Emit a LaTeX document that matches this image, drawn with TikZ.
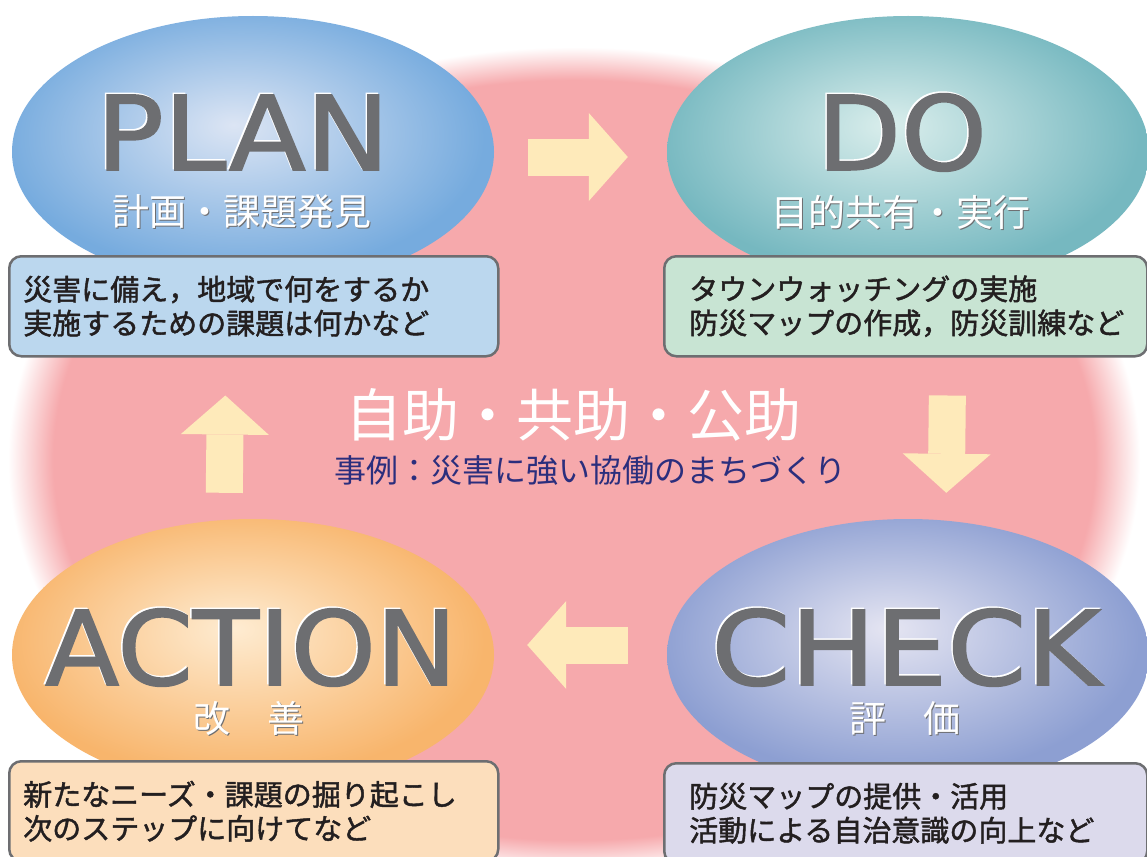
\documentclass[tikz,border=0pt]{standalone}
\usepackage{fontspec}
\usepackage{graphicx}
\setmainfont{Noto Sans CJK JP}
\newfontfamily\boxfont{Noto Sans CJK JP}[FakeBold=1.5]
\newfontfamily\latinfont{DejaVu Sans}[FakeBold=1.5]
\usepackage{tikz}
\usetikzlibrary{shapes, arrows.meta, positioning, calc}

\definecolor{bgpink}{RGB}{246,169,172}
\definecolor{planrim}{RGB}{118,171,222}
\definecolor{plancore}{RGB}{220,229,244}
\definecolor{dorim}{RGB}{118,184,192}
\definecolor{docore}{RGB}{218,238,236}
\definecolor{checkrim}{RGB}{141,159,210}
\definecolor{checkcore}{RGB}{229,229,242}
\definecolor{actrim}{RGB}{248,181,108}
\definecolor{actcore}{RGB}{254,236,210}
\definecolor{planfill}{RGB}{187,215,238}
\definecolor{dofill}{RGB}{200,228,211}
\definecolor{checkfill}{RGB}{220,218,236}
\definecolor{actfill}{RGB}{252,222,188}
\definecolor{rimgray}{RGB}{109,110,113}
\definecolor{cream}{RGB}{254,234,186}
\definecolor{navy}{RGB}{43,46,125}
\definecolor{ink}{RGB}{35,31,32}

\pgfdeclareradialshading{pinkglow}{\pgfpoint{0bp}{0bp}}{color(0bp)=(bgpink); color(23bp)=(bgpink); color(25bp)=(white); color(50bp)=(white)}
\pgfdeclareradialshading{planglow}{\pgfpoint{-2bp}{5bp}}{color(0bp)=(plancore); color(25bp)=(planrim); color(50bp)=(planrim)}
\pgfdeclareradialshading{doglow}{\pgfpoint{-2bp}{5bp}}{color(0bp)=(docore); color(25bp)=(dorim); color(50bp)=(dorim)}
\pgfdeclareradialshading{checkglow}{\pgfpoint{-2bp}{5bp}}{color(0bp)=(checkcore); color(25bp)=(checkrim); color(50bp)=(checkrim)}
\pgfdeclareradialshading{actglow}{\pgfpoint{-2bp}{5bp}}{color(0bp)=(actcore); color(25bp)=(actrim); color(50bp)=(actrim)}

\tikzstyle{phase} = [ellipse, inner sep=0pt, minimum width=482pt, minimum height=272pt]
\tikzstyle{block} = [rectangle, draw=rimgray, line width=2.5pt, rounded corners=12pt, minimum height=100pt, align=left, text=ink, anchor=north west, font=\boxfont\fontsize{29pt}{34pt}\selectfont]
\tikzstyle{flow} = [draw=cream, line width=37pt, -{Triangle[width=88pt, length=39pt, line width=0pt]}]
\tikzstyle{word} = [text=rimgray, inner sep=0pt, anchor=base, text depth=0pt, font=\latinfont\fontsize{103pt}{103pt}\selectfont]
\tikzstyle{wordlight} = [word, text=white]
\tikzstyle{caption} = [text=white, inner sep=0pt, font=\fontsize{37pt}{37pt}\selectfont]
\tikzstyle{captionshade} = [caption, text=rimgray]

\begin{document}
\begin{tikzpicture}[x=1pt, y=-1pt]
	\useasboundingbox (0,0) rectangle (1147,856);
	\clip (0,0) rectangle (1147,856);
	\fill[white] (0,0) rectangle (1147,856);
	\shade[shading=pinkglow] (574,460) ellipse [x radius=566pt, y radius=413pt];

	% the four phases
	\node[phase, shading=planglow] (plan) at (253,152) {};
	\node[phase, shading=doglow] (do) at (908,152) {};
	\node[phase, shading=checkglow] (check) at (908,655) {};
	\node[phase, shading=actglow] (action) at (253,655) {};

	\node[block, fill=planfill, text width=461pt, inner xsep=14pt] (planbox) at (8,255) {災害に備え，地域で何をするか\\実施するための課題は何かなど};
	\node[block, fill=dofill, text width=433pt, inner xsep=25pt] (dobox) at (663,255) {タウンウォッチングの実施\\防災マップの作成，防災訓練など};
	\node[block, fill=checkfill, text width=433pt, inner xsep=25pt] (checkbox) at (663,762) {防災マップの提供・活用\\活動による自治意識の向上など};
	\node[block, fill=actfill, text width=461pt, inner xsep=14pt] (actionbox) at (8,760) {新たなニーズ・課題の掘り起こし\\次のステップに向けてなど};

	\node[wordlight] (planhl) at ($(plan)+(-11.5,16.5)$) {\scalebox{1.09}[1]{PLAN}};
	\node[word] (planword) at ($(plan)+(-10,18)$) {\scalebox{1.09}[1]{PLAN}};
	\node[wordlight] (dohl) at ($(do)+(-7.5,16.5)$) {\scalebox{1.06}[1]{DO}};
	\node[word] (doword) at ($(do)+(-6,18)$) {\scalebox{1.06}[1]{DO}};
	\node[wordlight] (checkhl) at ($(check)+(-3.5,28.5)$) {\scalebox{1.1}[1]{CHECK}};
	\node[word] (checkword) at ($(check)+(-2,30)$) {\scalebox{1.1}[1]{CHECK}};
	\node[wordlight] (actionhl) at ($(action)+(-3.5,28.5)$) {\scalebox{1.05}[1]{ACTION}};
	\node[word] (actionword) at ($(action)+(-2,30)$) {\scalebox{1.05}[1]{ACTION}};

	\node[captionshade] (plansub2) at ($(plan)+(-10,61)$) {計画・課題発見};
	\node[caption] (plansub) at ($(plan)+(-11,60)$) {計画・課題発見};
	\node[captionshade] (dosub2) at ($(do)+(-6,61)$) {目的共有・実行};
	\node[caption] (dosub) at ($(do)+(-7,60)$) {目的共有・実行};
	\node[captionshade] (checksub2) at ($(check)+(-2,64)$) {評　価};
	\node[caption] (checksub) at ($(check)+(-3,63)$) {評　価};
	\node[captionshade] (actionsub2) at ($(action)+(-3,64)$) {改　善};
	\node[caption] (actionsub) at ($(action)+(-4,63)$) {改　善};

	% cycle
	\draw[flow, shorten <=34pt, shorten >=39pt] ([yshift=-5pt]plan.east) -- ([yshift=-5pt]do.west);
	\draw[flow, shorten <=38pt, shorten >=26pt] ([xshift=42pt]dobox.south) -- ([xshift=38pt]check.north);
	\draw[flow, shorten <=39pt, shorten >=33pt] ([yshift=10pt]check.west) -- ([yshift=10pt]action.east);
	\draw[flow, shorten <=26pt, shorten >=38pt] ([xshift=-29pt]action.north) -- ([xshift=-28pt]planbox.south);

	\node[text=white, inner sep=0pt, font=\fontsize{57pt}{57pt}\selectfont] (motto) at (573,415) {自助・共助・公助};
	\node[text=navy, inner sep=0pt, font=\fontsize{32pt}{32pt}\selectfont] (case) at (590,470) {事例：災害に強い協働のまちづくり};
\end{tikzpicture}
\end{document}
